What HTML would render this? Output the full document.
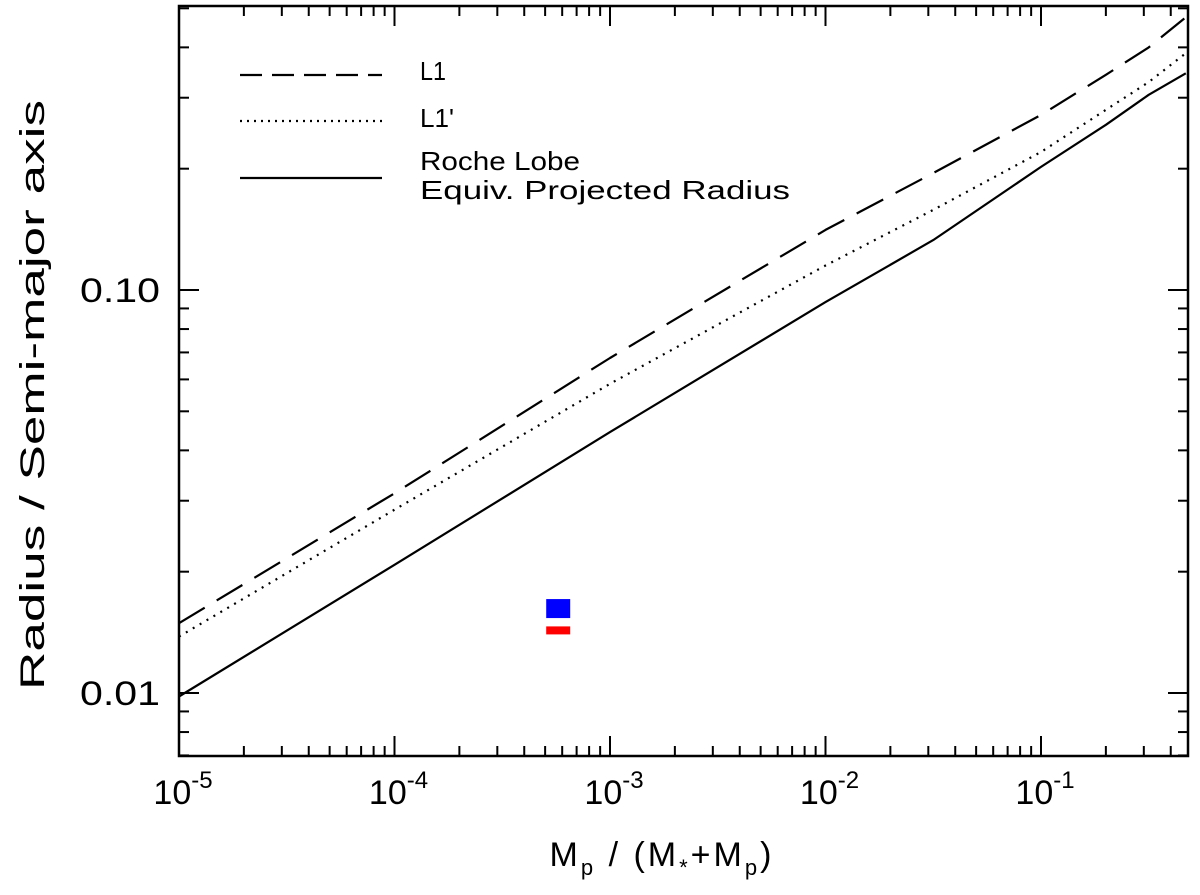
<!DOCTYPE html>
<html><head><meta charset="utf-8"><style>
body{margin:0;background:#fff}
svg text{font-family:"Liberation Sans",sans-serif;fill:#000}
</style></head><body>
<svg id="chart" width="1200" height="890" xmlns="http://www.w3.org/2000/svg">
<g id="plot"></g>
<g id="axes"></g>
<g>
<line x1="240" y1="75" x2="382" y2="75" stroke="#000" stroke-width="2.2" stroke-dasharray="22,10"/>
<text x="420" y="80" font-size="26" textLength="26" lengthAdjust="spacingAndGlyphs">L1</text>
<line x1="240" y1="121" x2="382" y2="121" stroke="#000" stroke-width="2.2" stroke-dasharray="2,5"/>
<text x="420" y="127" font-size="26" textLength="34" lengthAdjust="spacingAndGlyphs">L1'</text>
<line x1="240" y1="178" x2="382" y2="178" stroke="#000" stroke-width="2.2"/>
<text x="420" y="170" font-size="26" textLength="160" lengthAdjust="spacingAndGlyphs">Roche Lobe</text>
<text x="420" y="199" font-size="26" textLength="370" lengthAdjust="spacingAndGlyphs">Equiv. Projected Radius</text>
</g>
<text x="662" y="866" font-size="34" text-anchor="middle" letter-spacing="3">M<tspan font-size="22" dy="9">p</tspan><tspan dy="-9"> / (M</tspan><tspan font-size="22" dy="9">*</tspan><tspan dy="-9">+M</tspan><tspan font-size="22" dy="9">p</tspan><tspan dy="-9">)</tspan></text>
<text transform="translate(44,395) rotate(-90)" font-size="34" text-anchor="middle" textLength="590" lengthAdjust="spacingAndGlyphs">Radius / Semi-major axis</text>
</svg>
<script>
const massRatio = [1e-5, 1e-4, 1e-3, 1e-2, 3.16e-2, 1e-1, 2e-1, 3.16e-1, 0.47];
const l1Values = [0.0149, 0.0313, 0.0678, 0.141, 0.195, 0.272, 0.342, 0.40, 0.475];
const l1pValues = [0.0138, 0.0285, 0.0585, 0.115, 0.158, 0.220, 0.280, 0.328, 0.387];
const rocheValues = [0.0098, 0.0208, 0.0444, 0.0933, 0.133, 0.202, 0.257, 0.305, 0.345];
const pointX = [5.75e-4, 5.75e-4];
const pointY = [0.0162, 0.0143];
const pointColors = ['#0000ff', '#ff0000'];
const xTickExps = [-5, -4, -3, -2, -1];
const yTickValues = [0.01, 0.10];
const yTickLabels = ['0.01', '0.10'];

const L=179,R=1188,T=6,B=756;
const xs=v=>L+(Math.log10(v)+5)*215.5;
const ys=v=>290-(Math.log10(v)+1)*403;
const NS='http://www.w3.org/2000/svg';
function mk(t,a,p){const e=document.createElementNS(NS,t);for(const k in a)e.setAttribute(k,a[k]);p.appendChild(e);return e;}
const plot=document.getElementById('plot'),axes=document.getElementById('axes');
function series(vals,dash,name){
  const d=massRatio.map((m,i)=>(i?'L':'M')+xs(m).toFixed(1)+','+ys(vals[i]).toFixed(1)).join(' ');
  const p=mk('path',{d:d,fill:'none',stroke:'#000','stroke-width':2.2,'stroke-linejoin':'round'},plot);
  if(dash)p.setAttribute('stroke-dasharray',dash);
  
  
}
series(l1Values,'30,14','l1-line');
series(l1pValues,'2,6','l1-prime-line');
series(rocheValues,null,'roche-lobe-line');
pointX.forEach((x,i)=>{
  const h=i==0?19:8;
  const r=mk('rect',{x:xs(x)-12,y:ys(pointY[i])-h/2,width:24,height:h,fill:pointColors[i]},plot);
  
  
});
const frame=mk('rect',{x:L,y:T,width:R-L,height:B-T,fill:'none',stroke:'#000','stroke-width':2.5},axes);


for(let e=-5;e<=0;e++)for(let k=1;k<=9;k++){
  const v=k*Math.pow(10,e);if(v>0.47)break;
  const x=xs(v),len=k==1?20:10;
  const t1=mk('line',{x1:x,y1:B,x2:x,y2:B-len,stroke:'#000','stroke-width':2},axes);
  
  
  const t2=mk('line',{x1:x,y1:T,x2:x,y2:T+len,stroke:'#000','stroke-width':2},axes);
  
  
}
xTickExps.forEach(e=>{
  const t=mk('text',{x:xs(Math.pow(10,e))+4,y:804,'font-size':34,'text-anchor':'middle'},axes);
  t.innerHTML='10<tspan font-size="24" dy="-16">'+e+'</tspan>';
  
  
});
for(let e=-3;e<=-1;e++)for(let k=1;k<=9;k++){
  const v=k*Math.pow(10,e);const y=ys(v);if(y<T||y>B)continue;
  const len=k==1?20:10;
  const t1=mk('line',{x1:L,y1:y,x2:L+len,y2:y,stroke:'#000','stroke-width':2},axes);
  
  
  const t2=mk('line',{x1:R,y1:y,x2:R-len,y2:y,stroke:'#000','stroke-width':2},axes);
  
  
}
yTickValues.forEach((v,i)=>{
  const t=mk('text',{x:160,y:ys(v)+12,'font-size':34,'text-anchor':'end',textLength:80,lengthAdjust:'spacingAndGlyphs'},axes);
  t.textContent=yTickLabels[i];
  
  
});
</script>
</body></html>
